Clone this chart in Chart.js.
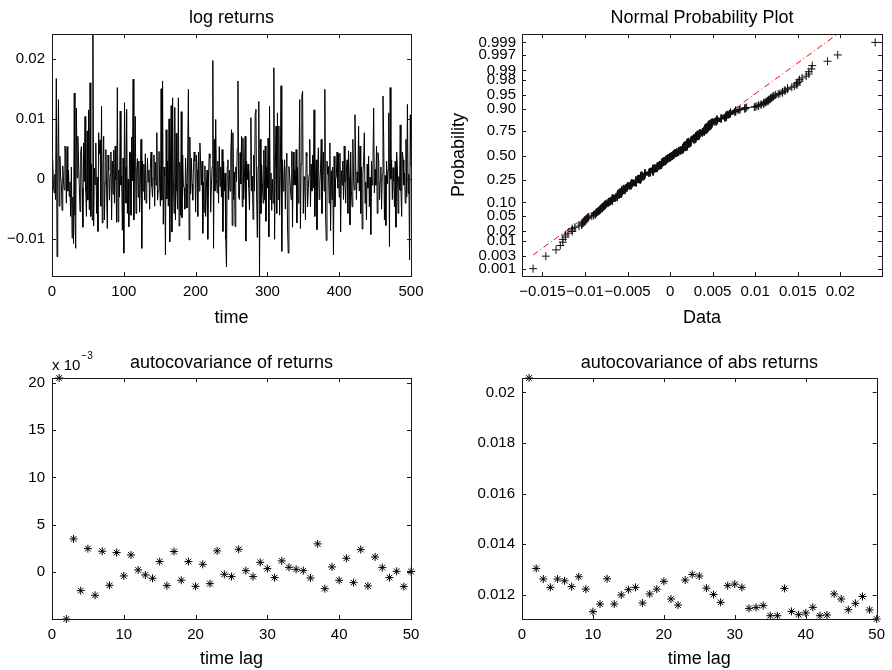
<!DOCTYPE html>
<html>
<head>
<meta charset="utf-8">
<title>log returns</title>
<script src="https://cdn.jsdelivr.net/npm/chart.js@4.4.1/dist/chart.umd.min.js"></script>
<style>
  html, body { margin: 0; padding: 0; background: #fff; }
  #wrap { position: relative; width: 892px; height: 670px; }
  canvas { position: absolute; }
</style>
</head>
<body>
<div id="wrap">
  <canvas id="c-returns" width="446" height="335" style="left:0;top:0"></canvas>
  <canvas id="c-normplot" width="446" height="335" style="left:446px;top:0"></canvas>
  <canvas id="c-acov" width="446" height="335" style="left:0;top:335px"></canvas>
  <canvas id="c-acov-abs" width="446" height="335" style="left:446px;top:335px"></canvas>
</div>
<script>
const FONT = '"Liberation Sans", Arial, Helvetica, sans-serif';
Chart.defaults.font.family = FONT;

// --- log returns, in basis points (1 bp = 1e-4) ---
const logReturnsBp = [
  33, -12, -23, 8, -34, 167, -129, 18, 132, -45,
  38, 5, -8, -52, 22, -3, -18, 55, 44, -40,
  54, -20, 15, -29, -5, -62, 20, -98, -30, -107,
  143, -60, -115, 118, 2, 71, 30, -10, -54, 46,
  54, -15, -80, 60, -4, 104, -20, -62, 80, -35,
  115, -51, 160, -62, 25, -68, 241, -78, 18, -9,
  60, -57, 3, -87, 77, 42, 65, -45, 121, -73,
  20, 71, -68, -5, 49, -14, -82, 40, 15, -35,
  7, 45, -68, 30, -25, 48, -40, 55, -2, -72,
  152, -71, 15, -30, 113, -10, 5, -85, 35, -123,
  127, 20, -40, 116, -57, 0, -79, 45, 44, -60,
  70, -3, 166, -68, 25, 104, -57, 15, 34, -30,
  30, -55, -9, 66, -115, 30, -20, 25, -35, 42,
  -40, -15, 35, -5, 15, -50, 20, 45, -12, -30,
  2, 40, -45, 28, -10, 77, -35, -20, 46, -6,
  -45, 150, -35, 163, -75, 20, 5, -126, 82, -33,
  30, -45, 100, -104, 20, 122, -88, 135, 0, -57,
  119, -68, 76, -20, -50, 135, -78, 28, -60, 112,
  -64, 40, -10, -15, -50, 35, -8, -48, 44, 149,
  -101, 70, -25, 35, -8, -35, 20, 45, 30, -55,
  40, 15, -62, 45, -20, 60, 25, -10, 30, -90,
  -5, -55, 22, -62, -15, 15, -100, 5, 42, 35,
  -55, -10, 20, 197, -115, 66, -20, 99, 1, -23,
  30, -40, 54, -12, 20, -30, 49, -87, 29, -20,
  10, -99, -146, 20, 32, -34, 15, -20, 40, 82,
  -77, 77, -34, 12, -79, 20, -4, 50, 163, -30,
  -34, 44, -8, 71, -46, 68, -34, 0, 71, -103,
  30, -1, 25, -14, -51, 13, 102, -20, 5, -67,
  40, -20, 110, 116, -30, -97, 20, 129, -161, 66,
  -57, 24, -6, -40, 48, -34, 55, -70, 20, -15,
  68, -96, 121, -34, 10, -52, 0, -40, 185, -100,
  14, 88, -57, 110, -34, 88, -60, 10, 155, -120,
  32, -20, 3, 32, -50, 20, 43, -76, -123, 21,
  5, -12, -34, 46, -80, 45, -10, 15, -10, 49,
  -73, 20, -40, 10, 132, -82, 25, 138, 146, -57,
  4, -1, -68, 44, 38, -46, -14, 7, 66, -46,
  25, -20, 40, -15, 115, -62, 2, 32, -84, 10,
  52, -34, -10, 17, 66, -57, -3, 45, -20, 149,
  -57, -102, 30, 8, 21, -40, 60, -86, 14, -34,
  20, -126, 38, -46, 0, 4, 45, -15, 42, -30,
  43, -88, 14, -10, 30, -34, 55, -5, -40, 15,
  32, -57, 47, 4, -76, 45, -20, -46, 66, 2,
  -18, 107, 20, -34, 12, -6, 88, -20, 55, -57,
  20, -83, 10, 30, 77, -40, -5, -68, 25, -15,
  38, -46, 3, -92, 30, -10, 20, 118, -23, 16,
  -10, 55, -57, 44, 30, -34, -4, 20, -50, 8,
  138, 64, -68, 6, -77, 30, -8, 15, 110, -112,
  152, 0, 32, -34, 19, -3, -46, 30, -80, 45,
  21, -57, 4, -18, 90, -20, -62, 45, 32, -10,
  10, -40, 66, -30, 124, -24, 8, -134, 107, 21
];
const timeTicks = [0, 100, 200, 300, 400, 500];
const returnTicks = [-0.01, 0, 0.01, 0.02];

// --- normal probability plot axes ---
const dataTicks = [-0.015, -0.01, -0.005, 0, 0.005, 0.01, 0.015, 0.02];
const probTicks = [0.001, 0.003, 0.01, 0.02, 0.05, 0.10, 0.25, 0.50, 0.75, 0.90, 0.95, 0.98, 0.99, 0.997, 0.999];
const probLabels = ['0.001', '0.003', '0.01', '0.02', '0.05', '0.10', '0.25', '0.50', '0.75', '0.90', '0.95', '0.98', '0.99', '0.997', '0.999'];

// --- autocovariances, lags 1..50 ---
const lags = [1, 2, 3, 4, 5, 6, 7, 8, 9, 10, 11, 12, 13, 14, 15, 16, 17, 18, 19, 20,
  21, 22, 23, 24, 25, 26, 27, 28, 29, 30, 31, 32, 33, 34, 35, 36, 37, 38, 39, 40,
  41, 42, 43, 44, 45, 46, 47, 48, 49, 50];
// returns, in units of 1e-3 (axis shows "x 10^-3")
const acovReturnsE3 = [20.53, -4.98, 3.50, -1.98, 2.47, -2.47, 2.19, -1.41, 2.05, -0.42,
  1.80, 0.21, -0.32, -0.67, 1.10, -1.45, 2.16, -0.88, 1.10, -1.52,
  0.81, -1.24, 2.23, -0.25, -0.49, 2.40, 0.14, -0.49, 1.02, 0.35,
  -0.60, 1.17, 0.49, 0.28, 0.14, -0.64, 2.97, -1.77, 0.53, -0.88,
  1.45, -1.13, 2.37, -1.48, 1.59, 0.46, -0.60, 0.07, -1.55, 0.04];
const acovAbsReturns = [0.02057, 0.01304, 0.01262, 0.01229, 0.01262, 0.01255, 0.01232, 0.01271, 0.01222, 0.01133,
  0.01163, 0.01263, 0.01163, 0.01199, 0.01220, 0.01229, 0.01167, 0.01203, 0.01222, 0.01253,
  0.01183, 0.01159, 0.01258, 0.01280, 0.01274, 0.01226, 0.01201, 0.01170, 0.01236, 0.01242,
  0.01229, 0.01146, 0.01150, 0.01157, 0.01117, 0.01117, 0.01225, 0.01134, 0.01121, 0.01128,
  0.01150, 0.01117, 0.01120, 0.01203, 0.01183, 0.01141, 0.01166, 0.01193, 0.01140, 0.01104];
const lagTicks = [0, 10, 20, 30, 40, 50];
const acovTicks = [0, 5, 10, 15, 20];
const acovAbsTicks = [0.012, 0.014, 0.016, 0.018, 0.02];

// inverse standard normal cdf (Acklam), used for the probability axis
function norminv(p) {
  const a = [-3.969683028665376e+01, 2.209460984245205e+02, -2.759285104469687e+02, 1.383577518672690e+02, -3.066479806614716e+01, 2.506628277459239e+00];
  const b = [-5.447609879822406e+01, 1.615858368580409e+02, -1.556989798598866e+02, 6.680131188771972e+01, -1.328068155288572e+01];
  const c = [-7.784894002430293e-03, -3.223964580411365e-01, -2.400758277161838e+00, -2.549732539343734e+00, 4.374664141464968e+00, 2.938163982698783e+00];
  const d = [7.784695709041462e-03, 3.224671290700398e-01, 2.445134137142996e+00, 3.754408661907416e+00];
  const lo = 0.02425;
  if (p < lo || p > 1 - lo) {
    const q = Math.sqrt(-2 * Math.log(p < lo ? p : 1 - p));
    const v = (((((c[0] * q + c[1]) * q + c[2]) * q + c[3]) * q + c[4]) * q + c[5]) /
              ((((d[0] * q + d[1]) * q + d[2]) * q + d[3]) * q + 1);
    return p < lo ? v : -v;
  }
  const q = p - 0.5, r = q * q;
  return (((((a[0] * r + a[1]) * r + a[2]) * r + a[3]) * r + a[4]) * r + a[5]) * q /
         (((((b[0] * r + b[1]) * r + b[2]) * r + b[3]) * r + b[4]) * r + 1);
}

const fmt = v => (v < 0 ? '\u2212' + String(-v) : String(v));

// MATLAB-like box with inward ticks on all four sides
const boxPlugin = {
  id: 'matlabBox',
  afterDraw(chart) {
    const { ctx, chartArea: a, scales } = chart;
    const L = 4;
    ctx.save();
    ctx.strokeStyle = '#1a1a1a';
    ctx.lineWidth = 1;
    ctx.beginPath();
    scales.x.ticks.forEach(t => {
      const px = Math.round(scales.x.getPixelForValue(t.value)) + 0.5;
      ctx.moveTo(px, a.bottom); ctx.lineTo(px, a.bottom - L);
      ctx.moveTo(px, a.top); ctx.lineTo(px, a.top + L);
    });
    scales.y.ticks.forEach(t => {
      const py = Math.round(scales.y.getPixelForValue(t.value)) + 0.5;
      ctx.moveTo(a.left, py); ctx.lineTo(a.left + L, py);
      ctx.moveTo(a.right, py); ctx.lineTo(a.right - L, py);
    });
    ctx.stroke();
    ctx.strokeRect(Math.round(a.left) + 0.5, Math.round(a.top) + 0.5,
                   Math.round(a.right - a.left), Math.round(a.bottom - a.top));
    ctx.restore();
  }
};

// "x 10^-3" multiplier over the returns autocovariance axis
const exponentLabel = {
  id: 'exponentLabel',
  afterDraw(chart) {
    const { ctx, chartArea } = chart;
    ctx.save();
    ctx.fillStyle = '#000';
    ctx.textBaseline = 'alphabetic';
    ctx.font = '15px ' + FONT;
    ctx.fillText('x 10', chartArea.left, chartArea.top - 8);
    const w = ctx.measureText('x 10').width;
    ctx.font = '10px ' + FONT;
    ctx.fillText('\u22123', chartArea.left + w + 1, chartArea.top - 19);
    ctx.restore();
  }
};

function axis(ticks, min, max, size, opts = {}) {
  return {
    type: 'linear', min, max,
    grid: { display: false, drawTicks: false },
    border: { display: false },
    afterBuildTicks: s => { s.ticks = ticks.map(v => ({ value: v })); },
    afterFit: s => { if (s.isHorizontal()) s.height = size; else s.width = size; },
    ticks: {
      autoSkip: false, maxRotation: 0, minRotation: 0,
      padding: opts.tickPad ?? 7, color: '#000',
      font: { size: 15 },
      callback: opts.label || fmt
    },
    title: opts.title
      ? { display: true, text: opts.title, color: '#000', font: { size: 18 }, padding: opts.titlePad }
      : { display: false }
  };
}

function options(title, titlePad, padRight, x, y) {
  return {
    responsive: false, animation: false, events: [],
    layout: { padding: { left: 0, top: 0, right: padRight, bottom: 0 } },
    plugins: {
      legend: { display: false },
      tooltip: { enabled: false },
      title: { display: true, fullSize: false, text: title, color: '#000',
               font: { size: 18, weight: 'normal' }, padding: titlePad }
    },
    scales: { x, y }
  };
}

// --- top left: log returns over time ---
new Chart(document.getElementById('c-returns'), {
  type: 'line',
  data: {
    datasets: [{
      data: logReturnsBp.map((bp, i) => ({ x: i + 1, y: bp / 10000 })),
      borderColor: '#000', borderWidth: 1, pointRadius: 0, tension: 0
    }]
  },
  options: options('log returns', { top: 7, bottom: 5.4 }, 35,
    axis(timeTicks, 0, 500, 59, { title: 'time', titlePad: { top: 0, bottom: 6 } }),
    axis(returnTicks, -0.0161, 0.0241, 52)),
  plugins: [boxPlugin]
});

// --- top right: normal probability plot of the same returns ---
const sorted = logReturnsBp.map(bp => bp / 10000).sort((p, q) => p - q);
const n = sorted.length;
const probPoints = sorted.map((v, i) => ({ x: v, y: norminv((i + 0.5) / n) }));
const q1 = sorted[Math.round(0.25 * n - 0.5)];
const q3 = sorted[Math.round(0.75 * n - 0.5)];
const zq = norminv(0.75);
const fitZ = v => -zq + (v - q1) * (2 * zq) / (q3 - q1);
const fitLine = [sorted[0], sorted[n - 1]].map(v => ({ x: v, y: fitZ(v) }));

new Chart(document.getElementById('c-normplot'), {
  type: 'scatter',
  data: {
    datasets: [
      { data: probPoints, pointStyle: 'cross', pointRadius: 4, pointBorderColor: '#111',
        pointBorderWidth: 1, showLine: false, clip: false },
      { type: 'line', data: fitLine, borderColor: '#ff0000', borderWidth: 1,
        borderDash: [6, 3, 1, 3], pointRadius: 0, showLine: true }
    ]
  },
  options: options('Normal Probability Plot', { top: 7, bottom: 5.4 }, 10,
    axis(dataTicks, -0.0174, 0.0249, 59, { title: 'Data', titlePad: { top: 0, bottom: 6 } }),
    axis(probTicks.map(norminv), -3.29, 3.32, 76, {
      label: (v, i) => probLabels[i], tickPad: 6,
      title: 'Probability', titlePad: { top: 2.7, bottom: 0 }
    })),
  plugins: [boxPlugin]
});

// --- bottom left: autocovariance of returns ---
new Chart(document.getElementById('c-acov'), {
  type: 'scatter',
  data: {
    datasets: [{
      data: lags.map((l, i) => ({ x: l, y: acovReturnsE3[i] })),
      pointStyle: 'star', pointRadius: 4, pointBorderColor: '#000', pointBorderWidth: 1, clip: false
    }]
  },
  options: options('autocovariance of returns', { top: 17, bottom: 4.4 }, 35,
    axis(lagTicks, 0, 50, 51, { title: 'time lag', titlePad: { top: 0, bottom: 0 } }),
    axis(acovTicks, -4.98, 20.53, 52)),
  plugins: [boxPlugin, exponentLabel]
});

// --- bottom right: autocovariance of absolute returns ---
new Chart(document.getElementById('c-acov-abs'), {
  type: 'scatter',
  data: {
    datasets: [{
      data: lags.map((l, i) => ({ x: l, y: acovAbsReturns[i] })),
      pointStyle: 'star', pointRadius: 4, pointBorderColor: '#000', pointBorderWidth: 1, clip: false
    }]
  },
  options: options('autocovariance of abs returns', { top: 17, bottom: 4.4 }, 10,
    axis(lagTicks, 0, 50, 51, { title: 'time lag', titlePad: { top: 0, bottom: 0 } }),
    axis(acovAbsTicks, 0.01104, 0.02057, 76)),
  plugins: [boxPlugin]
});
</script>
</body>
</html>
